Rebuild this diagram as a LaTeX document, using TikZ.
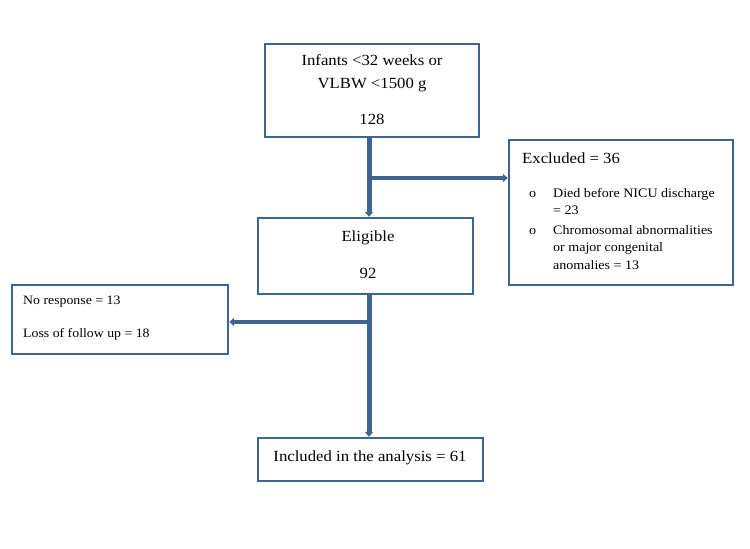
\documentclass[tikz,border=0pt]{standalone}
\usepackage{fontspec}
\setmainfont{Liberation Serif}[FakeStretch=1.08]
\usetikzlibrary{arrows.meta}
\definecolor{fcblue}{HTML}{3E6494}
\begin{document}
\begin{tikzpicture}[x=1pt,y=-1pt,
  box/.style={draw=fcblue,line width=2.4pt,rectangle,inner sep=0pt},
  flow/.style={draw=fcblue,line width=5pt},
  tip/.style={-{Triangle[length=5pt,width=8pt]}},
  txt/.style={inner sep=0pt,anchor=base,font=\fontsize{15.5}{18}\selectfont},
  stxt/.style={inner sep=0pt,anchor=base west,font=\fontsize{13}{15}\selectfont}]
\useasboundingbox (0,0) rectangle (750,549);
% boxes
\node[box,minimum width=214pt,minimum height=93pt] (top) at (372,90.5) {};
\node[box,minimum width=224pt,minimum height=145pt] (excl) at (621,212.5) {};
\node[box,minimum width=215pt,minimum height=76pt] (elig) at (365.5,256) {};
\node[box,minimum width=216pt,minimum height=69pt] (lost) at (120,319.5) {};
\node[box,minimum width=225pt,minimum height=43pt] (incl) at (370.5,459.5) {};
% texts
\node[txt] (t1) at (372,65) {Infants <32 weeks or};
\node[txt] (t2) at (372,88) {VLBW <1500 g};
\node[txt] (t3) at (372,124) {128};
\node[txt] (e1) at (368,241) {Eligible};
\node[txt] (e2) at (368,278) {92};
\node[txt] (i1) at (370,461) {Included in the analysis = 61};
\node[stxt,font=\fontsize{15.5}{18}\selectfont] (x0) at (522,163) {Excluded = 36};
\node[stxt] (xb1) at (529,197) {o};
\node[stxt] (x1) at (553,197) {Died before NICU discharge};
\node[stxt] (x2) at (553,214) {= 23};
\node[stxt] (xb2) at (529,234) {o};
\node[stxt] (x3) at (553,234) {Chromosomal abnormalities};
\node[stxt] (x4) at (553,251) {or major congenital};
\node[stxt] (x5) at (553,269) {anomalies = 13};
\node[stxt,font=\fontsize{12.8}{15}\selectfont] (l1) at (23,304) {No response = 13};
\node[stxt,font=\fontsize{12.8}{15}\selectfont] (l2) at (23,337) {Loss of follow up = 18};
% connectors
\coordinate (b1) at (369,178);
\coordinate (b2) at (369,322);
\draw[flow,tip] (369,137) coordinate (s1) -- (elig.north -| s1);
\draw[flow,tip,line width=4.5pt] (b1) -- (excl.west |- b1);
\draw[flow,tip] (369,294) coordinate (s2) -- (incl.north -| s2);
\draw[flow,tip,line width=4.5pt] (b2) -- (lost.east |- b2);
\end{tikzpicture}
\end{document}
